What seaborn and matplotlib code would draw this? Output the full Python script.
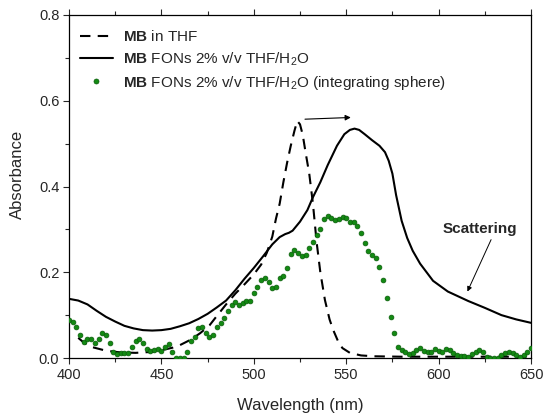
import numpy as np
import pandas as pd
import matplotlib
matplotlib.use("Agg")
import matplotlib.pyplot as plt
from matplotlib.lines import Line2D
import seaborn as sns

# ---- data ----
thf_wl = [405, 408, 412, 420, 428, 436, 444, 450, 456, 460, 466, 471, 476, 480, 485, 490, 495,
          500, 504, 507, 510, 512, 514, 516, 518, 520, 522, 523.5, 525, 526.5, 528, 530, 532,
          534, 536, 538.5, 541, 543, 546, 548, 552, 558, 565, 580, 650]
thf_abs = [0.047, 0.036, 0.026, 0.017, 0.013, 0.012, 0.014, 0.018, 0.024, 0.030, 0.043, 0.058,
           0.076, 0.098, 0.125, 0.150, 0.172, 0.195, 0.218, 0.245, 0.283, 0.325, 0.360, 0.410,
           0.455, 0.495, 0.530, 0.553, 0.545, 0.520, 0.480, 0.430, 0.360, 0.270, 0.200, 0.135,
           0.090, 0.065, 0.035, 0.023, 0.012, 0.006, 0.004, 0.003, 0.003]

fon_wl = [400, 405, 410, 415, 420, 425, 430, 435, 440, 445, 450, 455, 460, 465, 470, 475, 480,
          485, 490, 495, 500, 505, 510, 514, 517, 519, 521, 525, 529, 532, 536, 540, 545, 549,
          552, 554.5, 557, 560, 564, 568, 571, 573, 575, 577, 580, 583, 586, 590, 597, 605, 616,
          625, 634, 642, 650]
fon_abs = [0.138, 0.134, 0.125, 0.110, 0.096, 0.085, 0.075, 0.069, 0.065, 0.064, 0.065, 0.068,
           0.074, 0.081, 0.091, 0.103, 0.118, 0.134, 0.158, 0.185, 0.210, 0.237, 0.265, 0.282,
           0.289, 0.292, 0.297, 0.318, 0.345, 0.375, 0.410, 0.450, 0.495, 0.522, 0.532, 0.535,
           0.532, 0.522, 0.508, 0.495, 0.480, 0.460, 0.430, 0.380, 0.320, 0.280, 0.250, 0.220,
           0.180, 0.155, 0.133, 0.117, 0.100, 0.090, 0.082]

sph_wl = list(range(400, 651, 2))
sph_abs = [0.089, 0.084, 0.073, 0.054, 0.037, 0.044, 0.044, 0.034, 0.044, 0.058,
           0.054, 0.034, 0.015, 0.009, 0.012, 0.012, 0.012, 0.026, 0.040, 0.044,
           0.034, 0.020, 0.016, 0.019, 0.021, 0.017, 0.026, 0.032, 0.015, 0.000,
           0.000, 0.000, 0.015, 0.040, 0.050, 0.069, 0.073, 0.059, 0.048, 0.054,
           0.073, 0.081, 0.093, 0.110, 0.124, 0.131, 0.124, 0.128, 0.133, 0.134,
           0.152, 0.165, 0.182, 0.186, 0.178, 0.163, 0.166, 0.186, 0.191, 0.209,
           0.242, 0.253, 0.246, 0.238, 0.240, 0.256, 0.270, 0.287, 0.301, 0.324,
           0.332, 0.326, 0.322, 0.324, 0.328, 0.326, 0.318, 0.318, 0.309, 0.292,
           0.269, 0.250, 0.240, 0.233, 0.212, 0.182, 0.139, 0.095, 0.058, 0.026,
           0.019, 0.015, 0.009, 0.011, 0.019, 0.023, 0.017, 0.015, 0.015, 0.020,
           0.017, 0.015, 0.020, 0.019, 0.012, 0.007, 0.005, 0.005, 0.002, 0.009,
           0.015, 0.019, 0.015, 0.003, 0.001, 0.001, 0.000, 0.007, 0.012, 0.015,
           0.011, 0.007, 0.003, 0.007, 0.015, 0.023]

labels = [r"$\mathbf{MB}$ in THF",
          r"$\mathbf{MB}$ FONs 2% v/v THF/H$_2$O",
          r"$\mathbf{MB}$ FONs 2% v/v THF/H$_2$O (integrating sphere)"]

# ---- style ----
sns.set_style("ticks")
plt.rcParams["font.family"] = ["Liberation Sans", "DejaVu Sans"]
plt.rcParams["mathtext.fontset"] = "custom"
plt.rcParams["mathtext.rm"] = "Liberation Sans"
plt.rcParams["mathtext.bf"] = "Liberation Sans:bold"
plt.rcParams["mathtext.it"] = "Liberation Sans:italic"

fig = plt.figure(figsize=(5.43, 4.17), dpi=100)
ax = fig.add_axes([69 / 543, 1 - 358 / 417, (531 - 69) / 543, (358 - 15) / 417])

df_thf = pd.DataFrame({"wl": thf_wl, "A": thf_abs})
df_fon = pd.DataFrame({"wl": fon_wl, "A": fon_abs})
df_sph = pd.DataFrame({"wl": sph_wl, "A": sph_abs})

dash = (0, (5, 3.5))
green = "#138a13"
edge = "#0a5c0a"

sns.lineplot(data=df_thf, x="wl", y="A", ax=ax, color="black", lw=1.5,
             linestyle=dash, zorder=2)
sns.lineplot(data=df_fon, x="wl", y="A", ax=ax, color="black", lw=1.5, zorder=2)
sns.scatterplot(data=df_sph, x="wl", y="A", ax=ax, color=green, edgecolor=edge,
                linewidth=0.5, s=12, zorder=3)

ax.set_xlim(400, 650)
ax.set_ylim(0, 0.8)
ax.set_xticks([400, 450, 500, 550, 600, 650])
ax.set_xticks(np.arange(425, 650, 50), minor=True)
ax.set_yticks([0.0, 0.2, 0.4, 0.6, 0.8])
ax.set_yticks([0.1, 0.3, 0.5, 0.7], minor=True)
ax.set_yticklabels(["0.0", "0.2", "0.4", "0.6", "0.8"])

ax.tick_params(axis="both", which="major", direction="out", length=4.5, width=0.8,
               labelsize=10.5, pad=2.5)
ax.tick_params(axis="both", which="minor", direction="out", length=2.8, width=0.8)
ax.tick_params(top=True, which="both")
ax.tick_params(right=False, which="both")
for s in ax.spines.values():
    s.set_visible(True)
    s.set_linewidth(0.9)
    s.set_color("black")

ax.set_xlabel("Wavelength (nm)", fontsize=12, labelpad=12)
ax.set_ylabel("Absorbance", fontsize=12)
ax.yaxis.set_label_coords(-0.096, 0.536)

handles = [Line2D([], [], color="black", lw=1.5, linestyle=dash),
           Line2D([], [], color="black", lw=1.5),
           Line2D([], [], color=green, marker="o", markersize=3.6, markeredgecolor=edge,
                  markeredgewidth=0.5, linestyle="none")]
ax.legend(handles, labels, loc="upper left", bbox_to_anchor=(0.0, 0.99), frameon=False,
          fontsize=11, handlelength=2.15, handletextpad=0.7, labelspacing=0.4,
          borderaxespad=0.3)

ax.annotate("", xy=(552.5, 0.561), xytext=(527.7, 0.557),
            arrowprops=dict(arrowstyle="-|>", color="black", lw=0.8, mutation_scale=8,
                            shrinkA=0, shrinkB=0))
ax.text(622.5, 0.30, "Scattering", fontsize=11, fontweight="bold",
        ha="center", va="center")
ax.annotate("", xy=(615.6, 0.155), xytext=(628.4, 0.276),
            arrowprops=dict(arrowstyle="-|>", color="black", lw=0.7, mutation_scale=7,
                            shrinkA=0, shrinkB=0))

fig.savefig("out.png", dpi=100)
